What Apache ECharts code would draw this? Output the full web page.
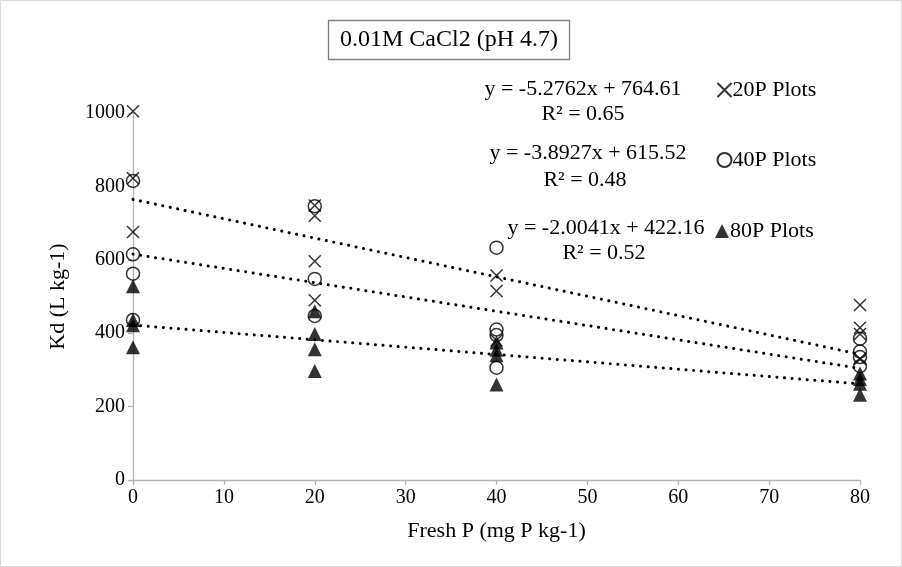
<!DOCTYPE html>
<html>
<head>
<meta charset="utf-8">
<script src="https://cdn.jsdelivr.net/npm/echarts@6/dist/echarts.min.js"></script>
<style>
  html, body { margin: 0; padding: 0; background: #fff; }
  #chart { width: 902px; height: 567px; }
</style>
</head>
<body>
<div id="chart"></div>
<script>
// Kd measured in 0.01M CaCl2 against fresh P added, by plot history
const xTicks = [0, 10, 20, 30, 40, 50, 60, 70, 80];
const yTicks = [0, 200, 400, 600, 800, 1000];

const plots20P = [[0, 1005], [0, 822], [0, 676], [20, 748], [20, 720], [20, 596], [20, 490],
  [40, 557], [40, 515], [40, 380], [80, 477], [80, 415], [80, 398], [80, 330]];
const plots40P = [[0, 815], [0, 615], [0, 562], [0, 436], [20, 746], [20, 548], [20, 447],
  [40, 633], [40, 410], [40, 395], [40, 306], [80, 385], [80, 350], [80, 335], [80, 310]];
const plots80P = [[0, 528], [0, 436], [0, 422], [0, 362], [20, 460], [20, 398], [20, 356], [20, 297],
  [40, 375], [40, 355], [40, 340], [40, 260], [80, 290], [80, 275], [80, 262], [80, 232]];

// linear fits: [slope, intercept, R²]
const fit20P = [-5.2762, 764.61, 0.65];
const fit40P = [-3.8927, 615.52, 0.48];
const fit80P = [-2.0041, 422.16, 0.52];

const FONT = '"Liberation Serif", "Times New Roman", serif';
const crossPath = 'path://M0,0L10,10M10,0L0,10';

function fitLine(f) {
  const x0 = xTicks[0], x1 = xTicks[xTicks.length - 1];
  return [[x0, f[1] + f[0] * x0], [x1, f[1] + f[0] * x1]];
}
function eqText(f) {
  return 'y = ' + f[0].toFixed(4) + 'x + ' + f[1].toFixed(2);
}
function label(x, y, text, size) {
  return { type: 'text', x: x, y: y, silent: true,
    style: { text: text, font: size + 'px ' + FONT, fill: '#000', align: 'center', verticalAlign: 'middle' } };
}

const chart = echarts.init(document.getElementById('chart'), null, { renderer: 'canvas' });

const trendStyle = { color: '#000', width: 3, type: [0.1, 7.5], cap: 'round' };
const axisCommon = {
  nameLocation: 'middle',
  nameTextStyle: { fontFamily: FONT, fontSize: 22, color: '#000' },
  axisLine: { show: true, lineStyle: { color: '#b3b3b3', width: 1.3 } },
  axisTick: { show: true, length: 5, lineStyle: { color: '#b3b3b3', width: 1.3 } },
  axisLabel: { fontFamily: FONT, fontSize: 20, color: '#000', margin: 8, formatter: v => String(v) },
  splitLine: { show: false }
};

chart.setOption({
  backgroundColor: '#fff',
  animation: false,
  grid: { left: 133, top: 113, width: 727, height: 367, containLabel: false },
  xAxis: Object.assign({}, axisCommon, {
    type: 'value', min: 0, max: 80, interval: 10,
    name: 'Fresh P (mg P kg-1)', nameGap: 40
  }),
  yAxis: Object.assign({}, axisCommon, {
    type: 'value', min: 0, max: 1000, interval: 200,
    name: 'Kd (L kg-1)', nameGap: 64
  }),
  legend: [
    { data: ['20P Plots'], left: 710, top: 74 },
    { data: ['40P Plots'], left: 710, top: 144 },
    { data: ['80P Plots'], left: 710, top: 215 }
  ].map(l => Object.assign(l, {
    orient: 'vertical', itemWidth: 14, itemHeight: 14, itemGap: 6,
    textStyle: { fontFamily: FONT, fontSize: 22, color: '#000', padding: [0, 0, 0, -4] }
  })),
  series: [
    { name: '20P Plots', type: 'scatter', data: plots20P, symbol: crossPath, symbolSize: 12, clip: false,
      itemStyle: { color: 'none', borderColor: '#000', borderWidth: 1.5 }, z: 3 },
    { name: '40P Plots', type: 'scatter', data: plots40P, symbol: 'circle', symbolSize: 13, clip: false,
      itemStyle: { color: 'none', borderColor: '#000', borderWidth: 1.5 }, z: 3 },
    { name: '80P Plots', type: 'scatter', data: plots80P, symbol: 'triangle', symbolSize: 14, clip: false,
      itemStyle: { color: '#000' }, z: 3 },
    { type: 'line', data: fitLine(fit20P), symbol: 'none', lineStyle: trendStyle, silent: true, z: 2 },
    { type: 'line', data: fitLine(fit40P), symbol: 'none', lineStyle: trendStyle, silent: true, z: 2 },
    { type: 'line', data: fitLine(fit80P), symbol: 'none', lineStyle: trendStyle, silent: true, z: 2 }
  ],
  graphic: [
    { type: 'rect', shape: { x: 0.5, y: 0.5, width: 901, height: 566 },
      style: { fill: 'none', stroke: '#d9d9d9', lineWidth: 1 }, silent: true },
    { type: 'rect', shape: { x: 328.5, y: 20.5, width: 241, height: 39 },
      style: { fill: '#fff', stroke: '#808080', lineWidth: 1.3 }, silent: true },
    label(449, 40, '0.01M CaCl2 (pH 4.7)', 24),
    label(583, 89, eqText(fit20P), 22),
    label(583, 114, 'R² = ' + fit20P[2].toFixed(2), 22),
    label(588, 153, eqText(fit40P), 22),
    label(585, 180, 'R² = ' + fit40P[2].toFixed(2), 22),
    label(606, 228, eqText(fit80P), 22),
    label(604, 253, 'R² = ' + fit80P[2].toFixed(2), 22)
  ]
});
</script>
</body>
</html>
